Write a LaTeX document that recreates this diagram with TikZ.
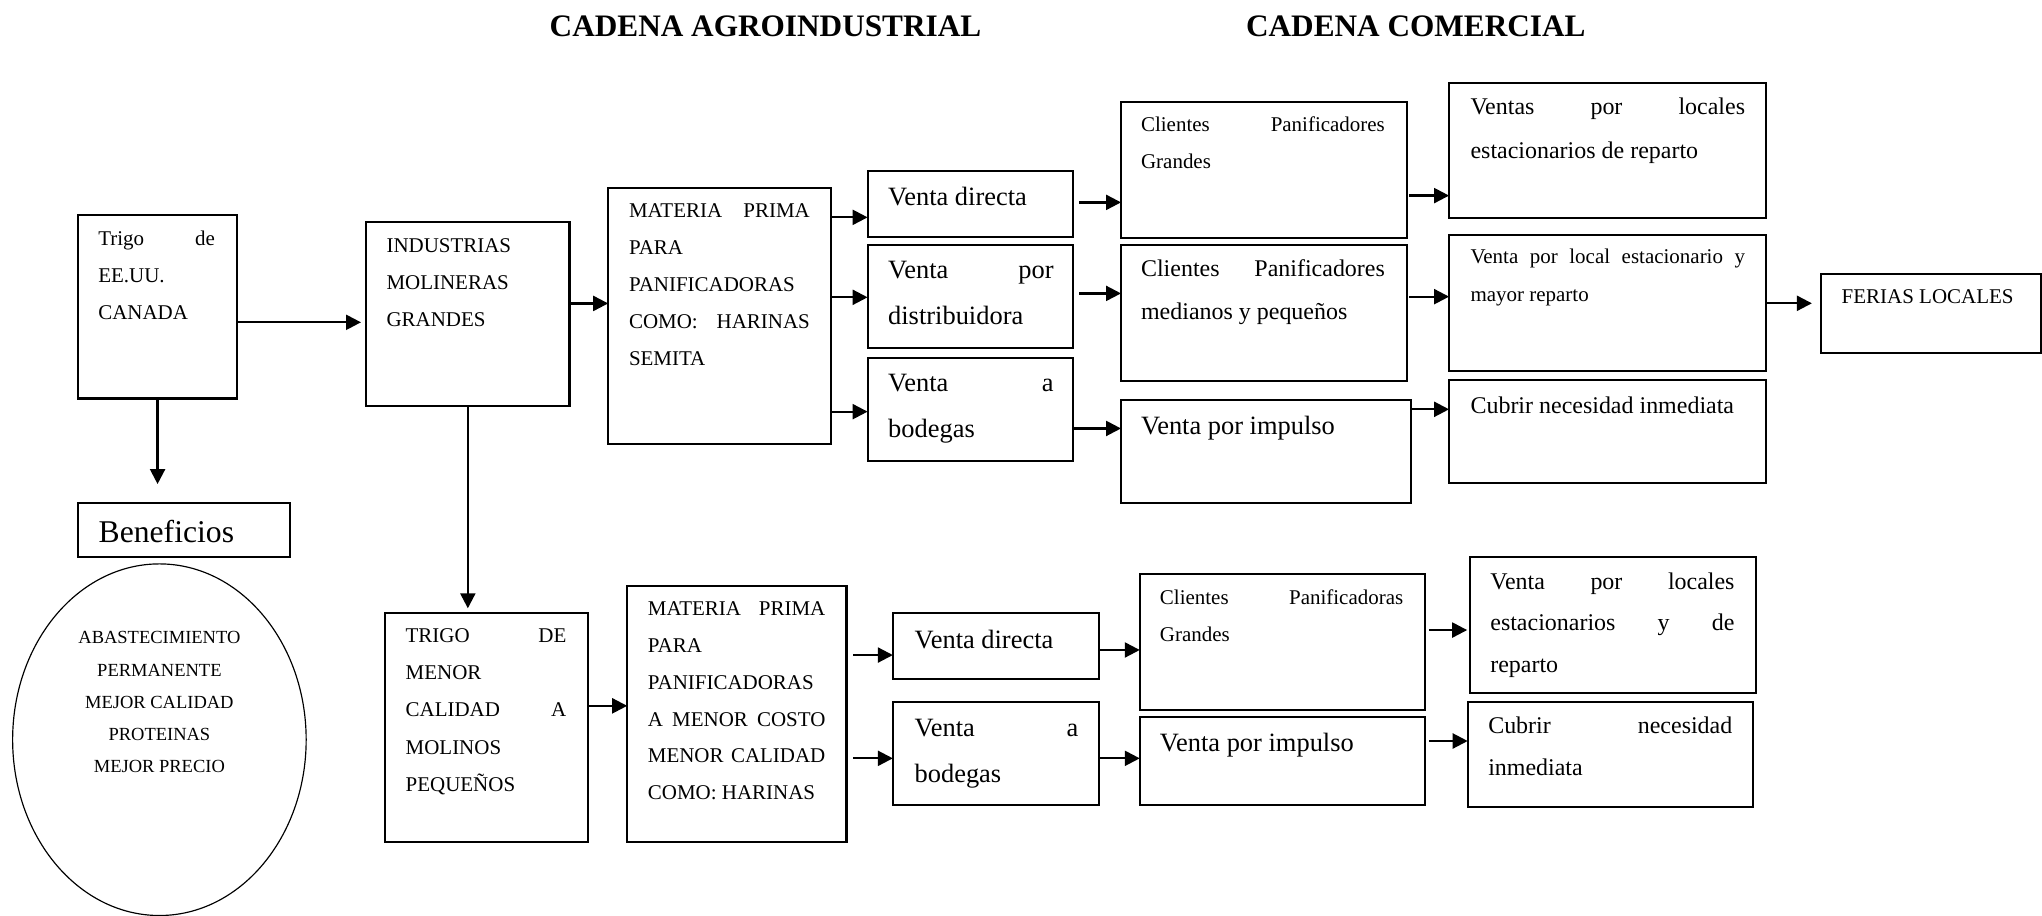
\documentclass[tikz,border=0pt]{standalone}
\usepackage{fontspec}
\setmainfont{Liberation Serif}
\usetikzlibrary{arrows.meta,shapes.geometric}
\newcommand\fsm{\fontsize{16.1pt}{28.5pt}\selectfont}
\newcommand\fsmb{\fontsize{16.1pt}{28.2pt}\selectfont}
\newcommand\fmd{\fontsize{18.4pt}{33.3pt}\selectfont}
\newcommand\fmdb{\fontsize{18.4pt}{31.8pt}\selectfont}
\newcommand\flg{\fontsize{20.3pt}{35pt}\selectfont}
\newcommand\jl[1]{\makebox[\linewidth][s]{#1}}
\newcommand\mybox[5]{\node[box, minimum width={#4-#2}, minimum height={#5-#3}] (#1) at (#2,#3) {};}
\newcommand\mytext[5]{\node[txt] (#1) at (#2,#3) {\parbox[t]{#4pt}{\parindent=0pt #5}};}
\begin{document}
\begin{tikzpicture}[x=1pt,y=-1pt,
  box/.style={draw, line width=1.55pt, anchor=north west, inner sep=0pt, outer sep=0pt},
  txt/.style={anchor=base west, inner sep=0pt, outer sep=0pt},
  arr/.style={line width=1.75pt, -{Triangle[length=11.5pt,width=11.5pt]}}]
\useasboundingbox (0,0) rectangle (1568,703);
\fill[white] (0,0) rectangle (1568,703);

% titles
\node[txt] (t1) at (422.1,28.2) {\fontsize{24pt}{28pt}\selectfont\bfseries CADENA AGROINDUSTRIAL};
\node[txt] (t2) at (956.8,28.2) {\fontsize{24pt}{28pt}\selectfont\bfseries CADENA COMERCIAL};

% boxes
\mybox{trigo}{60}{165}{182}{306}
\mybox{ind}{281.2}{170.7}{437.3}{311.5}
\mybox{mat1}{467}{144.6}{638.2}{340.7}
\mybox{vd1}{666.2}{131.3}{824.1}{181.7}
\mybox{vdist}{666.2}{188.1}{824.1}{267}
\mybox{vb1}{666.2}{274.6}{824.1}{354}
\mybox{cg1}{860.8}{78.3}{1080.2}{183}
\mybox{cm1}{860.8}{188.1}{1080.2}{292.6}
\mybox{imp1}{860.8}{307.2}{1083.2}{386}
\mybox{vl1}{1112.7}{63.5}{1356.1}{167.7}
\mybox{vle}{1112.7}{180.2}{1356.1}{284.9}
\mybox{cub1}{1112.7}{291.8}{1356.1}{371.1}
\mybox{ferias}{1398.3}{210.4}{1567}{270.8}
\mybox{benef}{59.7}{386}{222.8}{427.5}
\mybox{trigo2}{295.3}{470.5}{451.7}{646.8}
\mybox{mat2}{481.6}{450}{650}{646.3}
\mybox{vd2}{685.6}{471}{843.8}{521.4}
\mybox{vb2}{685.6}{538.8}{843.8}{618.1}
\mybox{cg2}{875.2}{440.8}{1094.3}{545.2}
\mybox{imp2}{875.2}{550.3}{1094.3}{618.1}
\mybox{vl2}{1128.9}{427.5}{1348}{532.4}
\mybox{cub2}{1127}{539.3}{1346.4}{619.4}
\node[draw, ellipse, line width=0.9pt, minimum width=225.4pt, minimum height=270pt, inner sep=0pt] (elip) at (122.4,568) {};

% texts
\mytext{tTrigo}{75.5}{188.6}{89.5}{\fsm\jl{Trigo de}\par EE.UU.\par CANADA}
\mytext{tInd}{296.8}{194}{130}{\fsm INDUSTRIAS\par MOLINERAS\par GRANDES}
\mytext{tMat1}{483}{166.9}{138.9}{\fsm\jl{MATERIA PRIMA}\par PARA\par PANIFICADORAS\par\jl{COMO: HARINAS}\par SEMITA}
\mytext{tVd1}{682}{158}{130}{\flg Venta directa}
\mytext{tVdist}{682}{214.2}{127}{\flg\jl{Venta por}\par distribuidora}
\mytext{tVb1}{682}{300.7}{127}{\flg\jl{Venta a}\par bodegas}
\mytext{tCg1}{876.2}{101.1}{187.2}{\fsm\jl{Clientes Panificadores}\par Grandes}
\mytext{tCm1}{876.2}{212.4}{187.2}{\fmd\jl{Clientes Panificadores}\par medianos y pequeños}
\mytext{tImp1}{876.2}{333.5}{200}{\flg Venta por impulso}
\mytext{tVl1}{1129.2}{88.3}{210.8}{\fmd\jl{Ventas por locales}\par estacionarios de reparto}
\mytext{tVle}{1129.2}{202.7}{210.8}{\fsm\jl{Venta por local estacionario y}\par mayor reparto}
\mytext{tCub1}{1129.2}{317.4}{215}{\fmd Cubrir necesidad inmediata}
\mytext{tFer}{1414.2}{233.4}{150}{\fsm FERIAS LOCALES}
\mytext{tBen}{75.8}{416.7}{140}{\fontsize{24.3pt}{30pt}\selectfont Beneficios}
\node[anchor=base, inner sep=0pt] (tElip) at (122.4,494.5) {\parbox[t]{200pt}{\centering\fontsize{14.2pt}{24.6pt}\selectfont ABASTECIMIENTO\par PERMANENTE\par MEJOR CALIDAD\par PROTEINAS\par MEJOR PRECIO}};
\mytext{tTrigo2}{311.5}{493.5}{123.4}{\fsm\jl{TRIGO DE}\par MENOR\par\jl{CALIDAD A}\par MOLINOS\par PEQUEÑOS}
\mytext{tMat2}{497.5}{473}{136.3}{\fsmb\jl{MATERIA PRIMA}\par PARA\par PANIFICADORAS\par\jl{A MENOR COSTO}\par\jl{MENOR CALIDAD}\par COMO: HARINAS}
\mytext{tVd2}{702.3}{497.8}{130}{\flg Venta directa}
\mytext{tVb2}{702.3}{565.7}{125.7}{\flg\jl{Venta a}\par bodegas}
\mytext{tCg2}{890.7}{463.8}{186.8}{\fsm\jl{Clientes Panificadoras}\par Grandes}
\mytext{tImp2}{890.7}{577.2}{195}{\flg Venta por impulso}
\mytext{tVl2}{1144.4}{452.5}{187.5}{\fmdb\jl{Venta por locales}\par\jl{estacionarios y de}\par reparto}
\mytext{tCub2}{1142.8}{563.6}{187.4}{\fmdb\jl{Cubrir necesidad}\par inmediata}

% arrows
\draw[arr, shorten >=4pt] (trigo.east |- 0,247.5) -- (ind.west |- 0,247.5);
\draw[arr, shorten >=14.3pt] (trigo.south) -- (trigo.south |- benef.north);
\draw[arr] (ind.east |- 0,233) -- (mat1.west |- 0,233);
\draw[arr, shorten >=3.4pt] (ind.south) -- (ind.south |- trigo2.north);
\draw[arr] (mat1.east |- 0,166.9) -- (vd1.west |- 0,166.9);
\draw[arr] (mat1.east |- 0,228.3) -- (vdist.west |- 0,228.3);
\draw[arr] (mat1.east |- 0,316.1) -- (vb1.west |- 0,316.1);
\draw[arr, shorten <=4.6pt] (vd1.east |- 0,155.4) -- (cg1.west |- 0,155.4);
\draw[arr, shorten <=4.6pt] (vdist.east |- 0,225.3) -- (cm1.west |- 0,225.3);
\draw[arr] (vb1.east |- 0,329) -- (imp1.west |- 0,329);
\draw[arr, shorten <=2pt] (cg1.east |- 0,150.2) -- (vl1.west |- 0,150.2);
\draw[arr, shorten <=2pt] (cm1.east |- 0,227.8) -- (vle.west |- 0,227.8);
\draw[arr] (imp1.east |- 0,314.3) -- (cub1.west |- 0,314.3);
\draw[arr, shorten >=7pt] (vle.east |- 0,232.9) -- (ferias.west |- 0,232.9);
\draw[arr] (trigo2.east |- 0,542) -- (mat2.west |- 0,542);
\draw[arr, shorten <=5.2pt] (mat2.east |- 0,503) -- (vd2.west |- 0,503);
\draw[arr, shorten <=5.2pt] (mat2.east |- 0,582.3) -- (vb2.west |- 0,582.3);
\draw[arr] (vd2.east |- 0,499.1) -- (cg2.west |- 0,499.1);
\draw[arr] (vb2.east |- 0,582.3) -- (imp2.west |- 0,582.3);
\draw[arr, shorten <=3.2pt, shorten >=2.3pt] (cg2.east |- 0,483.8) -- (vl2.west |- 0,483.8);
\draw[arr, shorten <=3.2pt] (imp2.east |- 0,569) -- (cub2.west |- 0,569);
\end{tikzpicture}
\end{document}
